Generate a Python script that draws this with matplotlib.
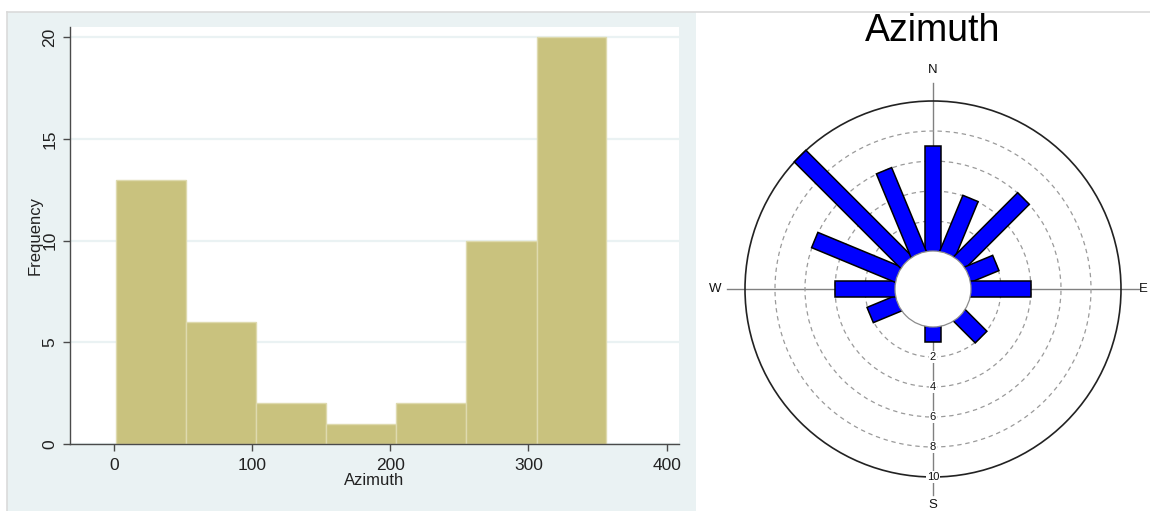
import numpy as np
import matplotlib
matplotlib.use("Agg")
import matplotlib.pyplot as plt
from matplotlib.patches import Rectangle, Circle, Polygon
from matplotlib.lines import Line2D

plt.rcParams['font.family'] = ['Liberation Sans', 'DejaVu Sans']

# ---- data ----
hist_edges = [1.5, 52.5, 103.0, 153.5, 204.0, 255.0, 306.0, 356.5]
hist_counts = [13, 6, 2, 1, 2, 10, 20]
hist_xticks = [0, 100, 200, 300, 400]
hist_yticks = [0, 5, 10, 15, 20]

rose_dirs = [0, 22.5, 45, 67.5, 90, 135, 180, 247.5, 270, 292.5, 315, 337.5]
rose_counts = [7, 4, 6, 2, 4, 2, 1, 2, 4, 6, 10, 6]
rose_rings = [2, 4, 6, 8, 10]
compass = ['N', 'E', 'S', 'W']

# ---- figure ----
W, H = 1150, 511
fig = plt.figure(figsize=(W / 100, H / 100), dpi=100)
fig.patch.set_facecolor('white')


def fx(px):
    return px / W


def fy(py):
    return 1 - py / H


# graph region of the histogram panel
fig.patches.append(Rectangle((fx(7), 0), fx(696) - fx(7), fy(12),
                             transform=fig.transFigure, facecolor='#EAF2F3',
                             edgecolor='none', zorder=-5))
fig.add_artist(Line2D([fx(7), 1], [fy(12), fy(12)], color='#DADADA', lw=1.2,
                      zorder=-4))
fig.add_artist(Line2D([fx(7), fx(7)], [0, fy(12)], color='#DADADA', lw=1.2,
                      zorder=-4))

# ---- histogram ----
ax = fig.add_axes([fx(70), fy(444), fx(679) - fx(70), fy(27) - fy(444)])
ax.set_facecolor('white')
widths = np.diff(hist_edges)
ax.bar(hist_edges[:-1], hist_counts, width=widths, align='edge',
       color='#C9C27E', edgecolor='#DEDAAE', linewidth=1.0, zorder=2)
ax.set_xlim(-31.7, 409)
ax.set_ylim(0, 20.5)
ax.set_xticks(hist_xticks)
ax.set_yticks(hist_yticks)
ax.yaxis.grid(True, color='#EAF2F3', lw=1.6)
ax.set_axisbelow(True)
for s in ['top', 'right']:
    ax.spines[s].set_visible(False)
for s in ['left', 'bottom']:
    ax.spines[s].set_color('#4A4A4A')
    ax.spines[s].set_linewidth(1.0)
ax.tick_params(direction='out', length=5, width=1, color='#4A4A4A',
               labelsize=12.5, labelcolor='#222222')
ax.tick_params(axis='x', pad=5)
ax.tick_params(axis='y', pad=4)
for lab in ax.get_yticklabels():
    lab.set_rotation(90)
    lab.set_va('center')
ax.set_xlabel('Azimuth', fontsize=12, labelpad=0, color='#222222')
ax.set_ylabel('Frequency', fontsize=12, labelpad=0, color='#222222')

# ---- rose diagram ----
unit = 15.0          # pixels per count
cx, cy = 933, 289    # centre in pixels
rx = fig.add_axes([fx(700), 0, 1 - fx(700), fy(50)])
rx.set_xlim(-(cx - 700) / unit, (W - cx) / unit)
rx.set_ylim(-(H - cy) / unit, (cy - 50) / unit)
rx.axis('off')

hole = 38 / unit
bar_w = 1.1
reach = 13.75

rx.plot([-reach, reach], [0, 0], color='#808080', lw=1.0, zorder=1)
rx.plot([0, 0], [-reach, reach], color='#808080', lw=1.0, zorder=1)

for r in rose_rings[:-1]:
    rx.add_patch(Circle((0, 0), hole + r, fill=False, edgecolor='#9A9A9A',
                        lw=0.9, ls=(0, (3.5, 3)), zorder=1))
rx.add_patch(Circle((0, 0), hole + rose_rings[-1], fill=False,
                    edgecolor='#222222', lw=1.2, zorder=1))

for d, c in zip(rose_dirs, rose_counts):
    t = np.radians(d)
    u = np.array([np.sin(t), np.cos(t)])
    p = np.array([np.cos(t), -np.sin(t)]) * bar_w / 2
    tip = (hole + c) * u
    corners = [p, tip + p, tip - p, -p]
    rx.add_patch(Polygon(corners, closed=True, facecolor='#0000FF',
                         edgecolor='black', lw=1.1, zorder=3))

rx.add_patch(Circle((0, 0), hole, facecolor='white', edgecolor='#8C8C8C',
                    lw=0.9, zorder=4))

for r in rose_rings:
    rx.text(0, -(hole + r), str(r), fontsize=8, ha='center', va='center',
            zorder=5, color='#111111',
            bbox=dict(boxstyle='square,pad=0.05', fc='white', ec='none'))

lab_r = {'N': 14.6, 'E': 14.05, 'S': 14.4, 'W': 14.5}
for name, ang in zip(compass, [0, 90, 180, 270]):
    t = np.radians(ang)
    rx.text(lab_r[name] * np.sin(t), lab_r[name] * np.cos(t), name,
            fontsize=9.5, ha='center', va='center', color='#111111',
            clip_on=False)

fig.text(fx(933), fy(31), 'Azimuth', fontsize=27, ha='center', va='center',
         color='black')

fig.savefig('out.png', dpi=100, facecolor='white')
